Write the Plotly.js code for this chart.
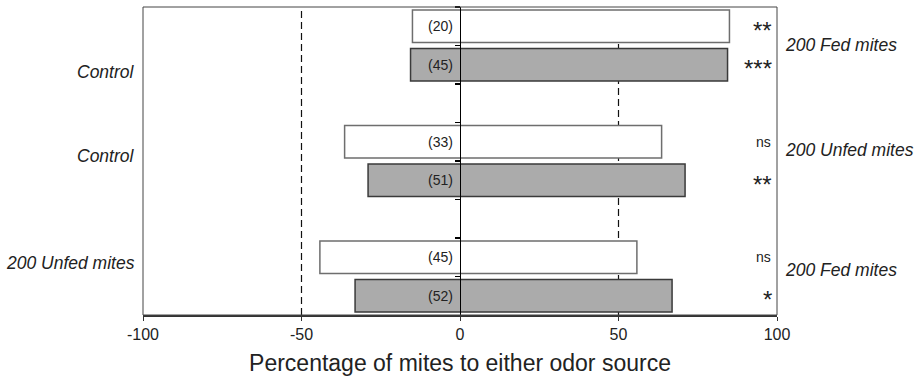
<!DOCTYPE html>
<html>
<head>
<meta charset="utf-8">
<script src="https://cdn.plot.ly/plotly-3.0.1.min.js"></script>
<style>html,body{margin:0;padding:0;background:#fff;}#chart{width:919px;height:377px;}</style>
</head>
<body>
<div id="chart"></div>
<script>
// ---- data ----
var categories = ['Fed vs Control (1)', 'Fed vs Control (2)', ' ', 'Unfed vs Control (1)', 'Unfed vs Control (2)', '  ', 'Fed vs Unfed (1)', 'Fed vs Unfed (2)'];
var whiteCats = ['Fed vs Control (1)', 'Unfed vs Control (1)', 'Fed vs Unfed (1)'];
var grayCats  = ['Fed vs Control (2)', 'Unfed vs Control (2)', 'Fed vs Unfed (2)'];
var whiteLeft  = [-15, -36.4, -44.2];
var whiteRight = [85, 63.6, 55.8];
var grayLeft   = [-15.6, -29, -33.1];
var grayRight  = [84.4, 71, 66.9];
var whiteN = ['(20)', '(33)', '(45)'];
var grayN  = ['(45)', '(51)', '(52)'];
var whiteSig = ['**', 'ns', 'ns'];
var graySig  = ['***', '**', '*'];
var leftLabels  = ['Control', 'Control', '200 Unfed mites'];
var rightLabels = ['200 Fed mites', '200 Unfed mites', '200 Fed mites'];
var xTicks = [-100, -50, 0, 50, 100];
var refLines = [-50, 50];
var xTitle = 'Percentage of mites to either odor source';

// ---- layout-only positions (category coordinates) ----
var leftLabelPos  = [1.19, 3.38, 6.14];
var rightLabelPos = [0.48, 3.21, 6.33];

var FONT = 'Liberation Sans, Arial, Helvetica, sans-serif';
var TXT = '#222';

function diff(a, b) { return a.map(function (v, i) { return v - b[i]; }); }

var traces = [
  {
    type: 'bar', orientation: 'h', name: 'white',
    y: whiteCats, x: diff(whiteRight, whiteLeft), base: whiteLeft,
    width: 0.85,
    marker: { color: '#ffffff', line: { color: '#6e6e6e', width: 1.5 } },
    hoverinfo: 'skip'
  },
  {
    type: 'bar', orientation: 'h', name: 'gray',
    y: grayCats, x: diff(grayRight, grayLeft), base: grayLeft,
    width: 0.85,
    marker: { color: '#ababab', line: { color: '#3a3a3a', width: 1.5 } },
    hoverinfo: 'skip'
  }
];

var annotations = [];
function addN(cats, labels) {
  cats.forEach(function (c, i) {
    annotations.push({ x: 0, y: c, xref: 'x', yref: 'y', text: labels[i], showarrow: false,
      xanchor: 'right', xshift: -5, font: { family: FONT, size: 14, color: TXT } });
  });
}
addN(whiteCats, whiteN); addN(grayCats, grayN);
function addSig(cats, labels) {
  cats.forEach(function (c, i) {
    var star = labels[i].indexOf('*') >= 0;
    annotations.push({ x: 1, y: c, xref: 'paper', yref: 'y', text: labels[i], showarrow: false,
      xanchor: 'right', xshift: star ? -3 : -4, yshift: star ? -4 : 0,
      font: { family: FONT, size: star ? 24 : 14, color: TXT } });
  });
}
addSig(whiteCats, whiteSig); addSig(grayCats, graySig);
leftLabels.forEach(function (t, i) {
  annotations.push({ x: 0, y: leftLabelPos[i], xref: 'paper', yref: 'y', text: '<i>' + t + '</i>', showarrow: false,
    xanchor: 'right', xshift: -6, font: { family: FONT, size: 17.5, color: TXT } });
});
rightLabels.forEach(function (t, i) {
  annotations.push({ x: 1, y: rightLabelPos[i], xref: 'paper', yref: 'y', text: '<i>' + t + '</i>', showarrow: false,
    xanchor: 'left', xshift: 6, font: { family: FONT, size: 17.5, color: TXT } });
});

var shapes = refLines.map(function (v) {
  return { type: 'line', xref: 'x', yref: 'paper', x0: v, x1: v, y0: 0, y1: 1, layer: 'below',
    line: { color: '#111', width: 1.2, dash: '7px,4px' } };
});
shapes.push({ type: 'rect', xref: 'paper', yref: 'paper', x0: 0, x1: 1, y0: 0, y1: 1, layer: 'above',
  line: { color: '#444', width: 1 } });

var layout = {
  width: 919, height: 377,
  margin: { l: 143, r: 142, t: 7, b: 62, pad: 0 },
  paper_bgcolor: '#fff', plot_bgcolor: '#fff',
  showlegend: false,
  barmode: 'overlay',
  font: { family: FONT, color: TXT },
  xaxis: {
    range: [-100, 100], tickvals: xTicks, ticktext: xTicks.map(String),
    ticks: 'outside', ticklen: 4, tickwidth: 1, tickcolor: '#333',
    showgrid: false, zeroline: false, showline: true, linewidth: 2, linecolor: '#333',
    tickfont: { family: FONT, size: 16, color: TXT },
    title: { text: xTitle, font: { family: FONT, size: 23, color: TXT }, standoff: 13 }
  },
  yaxis: {
    type: 'category', categoryorder: 'array', categoryarray: categories,
    range: [categories.length - 0.5, -0.5],
    anchor: 'free', position: 0.5,
    showline: true, linecolor: '#000', linewidth: 1.3,
    ticks: 'outside', tickson: 'boundaries', ticklen: 5, tickwidth: 1.3, tickcolor: '#000',
    showticklabels: false, showgrid: false, zeroline: false
  },
  annotations: annotations,
  shapes: shapes
};

Plotly.newPlot('chart', traces, layout, { displayModeBar: false, staticPlot: true });
</script>
</body>
</html>
